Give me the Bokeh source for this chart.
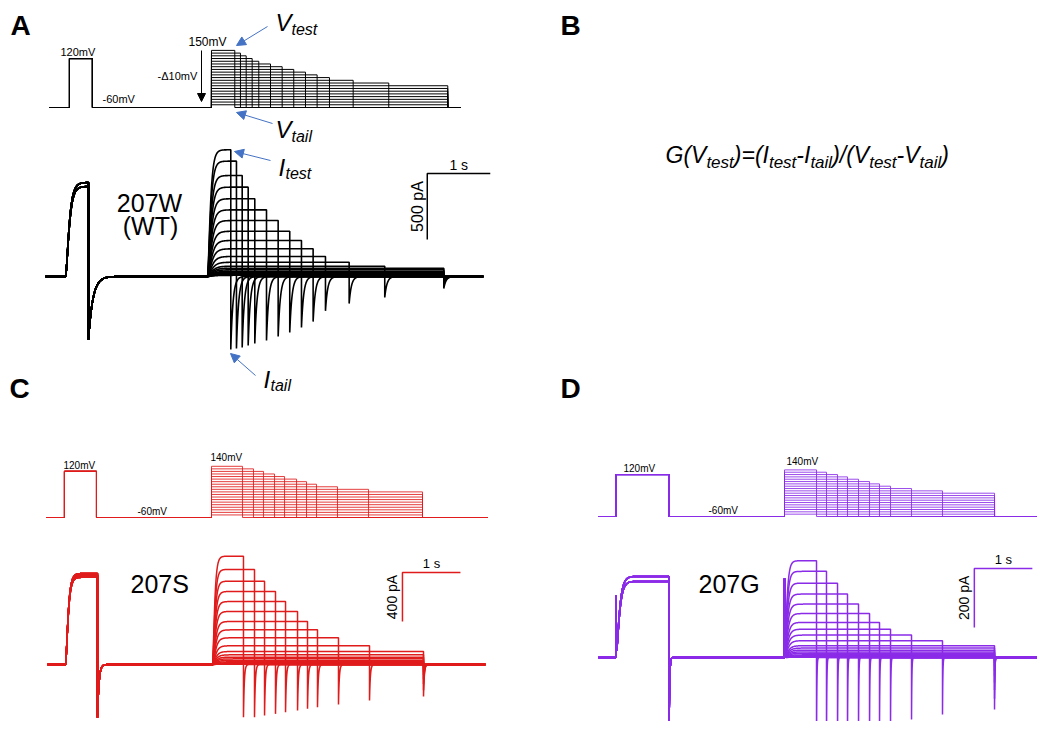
import numpy as np
from bokeh.plotting import figure
from bokeh.models import Range1d, Arrow, NormalHead
from bokeh.embed import file_html
from bokeh.resources import INLINE
from bokeh.core.properties import value

# ------------------------------------------------------------------ DATA
HOLD_mV = -60
PRE_mV = 120

# Panel A : 207W (WT)
A_test_mV = [150, 140, 130, 120, 110, 100, 90, 80, 70, 60, 50, 40, 30, 20, 10, 0, -10, -20, -30, -40, -50]
A_test_dur_s = [0.370, 0.460, 0.551, 0.646, 0.751, 0.937, 1.122, 1.306, 1.492, 1.677, 1.873, 2.249, 2.814,
                3.751, 3.751, 3.751, 3.751, 3.751, 3.751, 3.751, 3.751]
A_I_test_pA = [960, 874, 765, 677, 589, 505, 424, 343, 273, 210, 152, 108, 78, 63, 51, 40, 33, 25, 19, 14, 9]
A_I_tail_pA = [553, 545, 538, 523, 508, 485, 455, 424, 386, 341, 260, 205, 159, 91, 68, 53, 38, 30, 23, 15, 8]
A_pre_I_pA = [712, 682]
A_pre_tail_pA = 477
A_timing_s = dict(pre_start=0.317, pre_dur=0.365, test_start=2.571, proto_end=6.52, cur_end=6.95)

# Panel C : 207S
C_test_mV = [140, 130, 120, 110, 100, 90, 80, 70, 60, 50, 40, 30, 20, 10, 0, -10, -20, -30, -40, -50]
C_test_dur_s = [0.534, 0.724, 0.897, 1.086, 1.259, 1.466, 1.638, 1.810, 2.172, 2.707,
                3.638, 3.638, 3.638, 3.638, 3.638, 3.638, 3.638, 3.638, 3.638, 3.638]
C_I_test_pA = [884, 776, 680, 596, 514, 433, 351, 283, 218, 153, 106, 79, 60, 46, 33, 22, 14, 8, 5, 3]
C_I_tail_pA = [430, 430, 416, 403, 389, 376, 362, 348, 327, 294, 261, 210, 160, 120, 85, 60, 40, 25, 14, 6]
C_pre_I_pA = [743, 728, 712]
C_pre_tail_pA = 433
C_timing_s = dict(pre_start=0.31, pre_dur=0.552, test_start=2.845, proto_end=7.60, cur_end=7.55)

# Panel D : 207G
D_test_mV = [140, 130, 120, 110, 100, 90, 80, 70, 60, 50, 40, 30, 20, 10, 0, -10, -20, -30, -40, -50]
D_test_dur_s = [0.552, 0.724, 0.914, 1.086, 1.276, 1.466, 1.638, 1.828, 2.190, 2.724,
                3.621, 3.621, 3.621, 3.621, 3.621, 3.621, 3.621, 3.621, 3.621, 3.621]
D_I_test_pA = [328, 292, 252, 215, 181, 149, 119, 96, 76, 57, 40, 32, 25, 19, 14, 9, 6, 3, 2, 1]
D_I_tail_pA = [300, 295, 280, 265, 250, 245, 237, 224, 210, 193, 176, 140, 110, 85, 62, 45, 30, 18, 10, 5]
D_pre_I_pA = [275, 258]
D_pre_tail_pA = 320
D_cap_pA = dict(pre=210, test=268)
D_timing_s = dict(pre_start=0.30, pre_dur=0.914, test_start=3.207, proto_end=7.79, cur_end=7.90)

SCALE_T_s = 1.0
A_scale_pA, C_scale_pA, D_scale_pA = 500, 400, 200

# ------------------------------------------------------------------ LAYOUT (reference pixels)
W, H = 1037, 721
PX0, PX1, PY0, PY1 = 0, W, 0, H
FONT = value("Liberation Sans")
BLUE = "#4472C4"
RED = "#E01B1B"
PURPLE = "#8A2BE8"
MID = 0.35  # distance (in em) from alphabetic baseline up to the em-box middle

# panel mappings: time origin (x), px per s, baseline y, px per unit
MAP = {
    "A": dict(xv=49, xi=45, sx=63, yv=107, sv=0.272, yi=276, si=66 / 500),
    "C": dict(xv=46, xi=47, sx=58, yv=517, sv=0.256, yi=664, si=49 / 400),
    "D": dict(xv=598, xi=598, sx=58, yv=516, sv=0.233, yi=657, si=59 / 200),
}


def xrange_for(x0, sx):
    return Range1d((PX0 - x0) / sx, (PX1 - x0) / sx)


def yrange_for(yb, s, offset=0.0):
    return Range1d(offset + (yb - PY1) / s, offset + (yb - PY0) / s)


p = figure(width=W, height=H, output_backend="svg", toolbar_location=None,
           x_range=Range1d(PX0, PX1), y_range=Range1d(-PY1, -PY0),
           x_axis_type=None, y_axis_type=None, min_border=0,
           outline_line_color=None, background_fill_color="white", border_fill_color="white")
p.grid.visible = False

xr, yr = {}, {}
for k, m in MAP.items():
    xr[k + "_tv"] = xrange_for(m["xv"], m["sx"])
    xr[k + "_ti"] = xrange_for(m["xi"], m["sx"])
    yr[k + "_mv"] = yrange_for(m["yv"], m["sv"], offset=HOLD_mV)
    yr[k + "_pa"] = yrange_for(m["yi"], m["si"])
p.extra_x_ranges = xr
p.extra_y_ranges = yr


# ------------------------------------------------------------------ trace builders
def warp(t0, t1, n, pw=2.0):
    u = np.linspace(0.0, 1.0, n)
    return t0 + (t1 - t0) * u ** pw


def protocol(tm, dur, vtest, t_end):
    ps, pd, ts = tm["pre_start"], tm["pre_dur"], tm["test_start"]
    x = [0, ps, ps, ps + pd, ps + pd, ts, ts, ts + dur, ts + dur, t_end]
    y = [HOLD_mV, HOLD_mV, PRE_mV, PRE_mV, HOLD_mV, HOLD_mV, vtest, vtest, HOLD_mV, HOLD_mV]
    return x, y


def current(tm, pre_amp, pre_tail, dur, amp, tail, kin, cap_pre=0.0, cap_test=0.0):
    ps, pd, ts, te = tm["pre_start"], tm["pre_dur"], tm["test_start"], tm["cur_end"]
    segs_t, segs_y = [np.array([0.0, ps])], [np.array([0.0, 0.0])]
    t1 = warp(ps, ps + pd, 160)
    y1 = pre_amp * (1 - np.exp(-(t1 - ps) / kin["pre_tau"])) ** 2 + cap_pre * np.exp(-(t1 - ps) / 0.004)
    segs_t.append(t1); segs_y.append(y1)
    t2 = warp(ps + pd, ts, 220, 3)
    y2 = -pre_tail * np.exp(-(t2 - ps - pd) / kin["pre_tail_tau"])
    segs_t.append(t2); segs_y.append(y2)
    t3 = warp(ts, ts + dur, 180)
    y3 = amp * (1 - np.exp(-(t3 - ts) / kin["act_tau"])) ** 2 + cap_test * np.exp(-(t3 - ts) / 0.004)
    segs_t.append(t3); segs_y.append(y3)
    t4 = warp(ts + dur, te, 260, 3)
    y4 = -tail * np.exp(-(t4 - ts - dur) / kin["tail_tau"])
    segs_t.append(t4); segs_y.append(y4)
    return np.concatenate(segs_t), np.concatenate(segs_y)


def draw_panel(k, tm, vtests, durs, itest, itail, pre_I, pre_tail, color, kin, cap=None, lw_i=1.5, lw_v=1.0, alpha_v=1.0):
    pxs, pys, cxs, cys = [], [], [], []
    for i, (v, d, a, tl) in enumerate(zip(vtests, durs, itest, itail)):
        x, y = protocol(tm, d, v, tm["proto_end"])
        pxs.append(x); pys.append(y)
        kk = dict(kin)
        kk["act_tau"] = kin["act_tau"] * (1 + kin["act_slow"] * i)
        cx, cy = current(tm, pre_I[i % len(pre_I)], pre_tail, d, a, tl, kk,
                         cap_pre=(cap or {}).get("pre", 0.0), cap_test=(cap or {}).get("test", 0.0))
        cxs.append(cx); cys.append(cy)
    p.multi_line(pxs, pys, line_color=color, line_width=lw_v, line_alpha=alpha_v,
                 x_range_name=k + "_tv", y_range_name=k + "_mv")
    p.multi_line(cxs, cys, line_color=color, line_width=lw_i,
                 x_range_name=k + "_ti", y_range_name=k + "_pa")


draw_panel("A", A_timing_s, A_test_mV, A_test_dur_s, A_I_test_pA, A_I_tail_pA, A_pre_I_pA, A_pre_tail_pA,
           "black", dict(pre_tau=0.045, pre_tail_tau=0.07, act_tau=0.035, act_slow=0.06, tail_tau=0.035),
           lw_i=1.6, lw_v=1.0)
draw_panel("C", C_timing_s, C_test_mV, C_test_dur_s, C_I_test_pA, C_I_tail_pA, C_pre_I_pA, C_pre_tail_pA,
           RED, dict(pre_tau=0.035, pre_tail_tau=0.025, act_tau=0.028, act_slow=0.06, tail_tau=0.014),
           lw_i=1.5, lw_v=1.0, alpha_v=0.85)
draw_panel("D", D_timing_s, D_test_mV, D_test_dur_s, D_I_test_pA, D_I_tail_pA, D_pre_I_pA, D_pre_tail_pA,
           PURPLE, dict(pre_tau=0.045, pre_tail_tau=0.01, act_tau=0.03, act_slow=0.06, tail_tau=0.006),
           cap=D_cap_pA, lw_i=1.5, lw_v=1.0, alpha_v=0.85)

# ------------------------------------------------------------------ scale bars (corner in s / pA of each panel)
BAR_CORNER = {"A": (6.06, 780, A_scale_pA, "black", 14, 16),
              "C": (6.12, 751, C_scale_pA, RED, 13, 14),
              "D": (6.48, 302, D_scale_pA, PURPLE, 13, 14)}
for k, (t0, v0, amp, col, fs_t, fs_a) in BAR_CORNER.items():
    m = MAP[k]
    p.line([t0, t0, t0 + SCALE_T_s], [v0 - amp, v0, v0], line_color=col, line_width=1.5,
           x_range_name=k + "_ti", y_range_name=k + "_pa")
    p.text([t0 + SCALE_T_s / 2], [v0 + (4 + MID * fs_t) / m["si"]], text=["1 s"], text_font=FONT,
           text_font_size=f"{fs_t}px", text_align="center", text_baseline="middle", text_color="black",
           x_range_name=k + "_ti", y_range_name=k + "_pa")
    p.text([t0 - 10 / m["sx"]], [v0 - amp / 2], text=[f"{amp} pA"], text_font=FONT, text_font_size=f"{fs_a}px",
           text_align="center", text_baseline="middle", angle=np.pi / 2, text_color="black",
           x_range_name=k + "_ti", y_range_name=k + "_pa")


# ------------------------------------------------------------------ texts (reference pixel coordinates, y = baseline)
def txt(x, y, s, size, style="normal", align="left", color="black"):
    p.text([x], [-(y - MID * size)], text=[s], text_font=FONT, text_font_size=f"{size}px",
           text_font_style=style, text_align=align, text_baseline="middle", text_color=color)


for lab, x, y in [("A", 10, 35), ("B", 560, 35), ("C", 9, 398), ("D", 560, 398)]:
    txt(x, y, lab, 28, "bold")

# panel A protocol labels
txt(60, 55, "120mV", 11)
txt(102, 102, "-60mV", 11)
txt(188, 46, "150mV", 12)
txt(157, 79, "-\u039410mV", 11)
# italic symbols
txt(275, 30, "V", 24, "italic"); txt(291, 35, "test", 16, "italic")
txt(275, 137, "V", 24, "italic"); txt(291, 142, "tail", 16, "italic")
txt(278, 175, "I", 24, "italic"); txt(285, 179, "test", 16, "italic")
txt(263, 387, "I", 24, "italic"); txt(270, 391, "tail", 16, "italic")
txt(149, 211, "207W", 25, align="center")
txt(150, 234, "(WT)", 25, align="center")

for (xs, ys, xe, ye) in [(267, 26, 236, 45), (272, 123, 236, 112), (270, 160, 234, 151), (255, 375, 230, 353)]:
    p.add_layout(Arrow(end=NormalHead(size=9, fill_color=BLUE, line_color=BLUE, line_width=1),
                       x_start=xs, y_start=-ys, x_end=xe, y_end=-ye, line_color=BLUE, line_width=1))
p.add_layout(Arrow(end=NormalHead(size=8, fill_color="black", line_color="black", line_width=1),
                   x_start=201, y_start=-50, x_end=201, y_end=-101, line_color="black", line_width=1))

# panel B formula
pieces = [("G(V", 0), ("test", 1), (")=(I", 0), ("test", 1), ("-I", 0), ("tail", 1),
          (")/(V", 0), ("test", 1), ("-V", 0), ("tail", 1), (")", 0)]
ADV = {"G": 0.778, "(": 0.333, ")": 0.333, "V": 0.667, "=": 0.584, "I": 0.278, "-": 0.333, "/": 0.278,
       "t": 0.278, "e": 0.556, "s": 0.5, "a": 0.556, "i": 0.222, "l": 0.222}
xcur = 665
for s, sub in pieces:
    size = 17 if sub else 23
    txt(xcur, 168 if sub else 163, s, size, "italic")
    xcur += sum(ADV[c] for c in s) * size

# panel C / D labels
txt(63, 468, "120mV", 10); txt(137, 514, "-60mV", 10); txt(210, 460, "140mV", 10)
txt(130, 592, "207S", 25)
txt(623, 471, "120mV", 10); txt(708, 513, "-60mV", 10); txt(786, 464, "140mV", 10)
txt(698, 592, "207G", 25)

open("out.html", "w").write(file_html(p, INLINE))
